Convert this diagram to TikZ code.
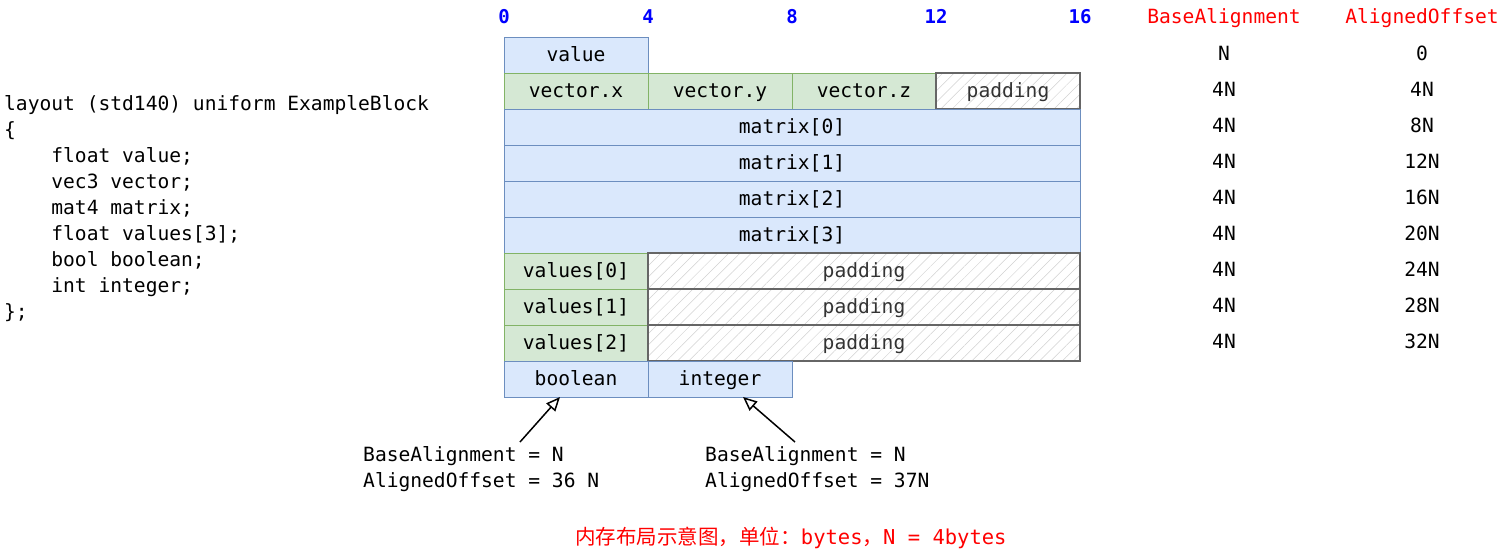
\documentclass[tikz,border=0pt]{standalone}
\usepackage{fontspec}
\setmonofont{DejaVu Sans Mono}
\newfontfamily\cjk{Noto Sans CJK SC}
\usetikzlibrary{arrows.meta,patterns.meta,positioning}
\definecolor{boxblue}{HTML}{DAE8FC}
\definecolor{lineblue}{HTML}{6C8EBF}
\definecolor{boxgreen}{HTML}{D5E8D4}
\definecolor{linegreen}{HTML}{82B366}
\newcommand{\tabin}{\hphantom{0000}}
\tikzset{
  mono/.style={font=\ttfamily\fontsize{19.6}{26}\selectfont, text height=14pt, text depth=4pt},
  cell/.style={mono, draw, line width=1pt, minimum height=36pt, inner sep=0pt, outer sep=0pt,
    text height=16pt},
  bluecell/.style={cell, fill=boxblue, draw=lineblue},
  greencell/.style={cell, fill=boxgreen, draw=linegreen},
  padcell/.style={cell, draw=black!60, line width=1.5pt, text=black!80,
    pattern={Lines[angle=45, distance=8pt, line width=0.5pt]}, pattern color=black!18},
  ruler/.style={font=\ttfamily\bfseries\fontsize{19}{22}\selectfont, text=blue,
    text height=14pt, text depth=4pt},
  colhead/.style={mono, text=red},
  note/.style={font=\ttfamily\fontsize{19.6}{26}\selectfont, align=left, anchor=north west, inner sep=0pt},
  pointer/.style={line width=1.5pt, -{Triangle[open, length=14pt, width=12pt]}}
}
\begin{document}
\begin{tikzpicture}[x=1pt, y=-1pt]
  \useasboundingbox (0,0) rectangle (1500,552);
  % byte ruler
  \foreach \b in {0,4,8,12,16}
    \node[ruler] (tick\b) at ({504+36*\b},18) {\b};
  % column headers
  \node[colhead] (basehead) at (1224,18) {BaseAlignment};
  \node[colhead] (offhead) at (1422,18) {AlignedOffset};
  % glsl source
  \node[note] (code) at (4,95) {layout (std140) uniform ExampleBlock\\
    \{\\
    \tabin float value;\\
    \tabin vec3 vector;\\
    \tabin mat4 matrix;\\
    \tabin float values[3];\\
    \tabin bool boolean;\\
    \tabin int integer;\\
    \};};
  % memory cells
  \node[bluecell, minimum width=144pt] (value) at (576,55) {value};
  \node[greencell, minimum width=144pt] (vecx) at (576,91) {vector.x};
  \node[greencell, minimum width=144pt] (vecy) at (720,91) {vector.y};
  \node[greencell, minimum width=144pt] (vecz) at (864,91) {vector.z};
  \node[padcell, minimum width=144pt] (vecpad) at (1008,91) {padding};
  \foreach \i in {0,...,3}
    \node[bluecell, minimum width=576pt] (matrix\i) at (792,{127+36*\i}) {matrix[\i]};
  \foreach \i in {0,1,2} {
    \node[greencell, minimum width=144pt] (values\i) at (576,{271+36*\i}) {values[\i]};
    \node[padcell, minimum width=432pt] (valpad\i) at (864,{271+36*\i}) {padding};
  }
  \node[bluecell, minimum width=144pt] (boolean) at (576,379) {boolean};
  \node[bluecell, minimum width=144pt] (integer) at (720,379) {integer};
  % alignment / offset table
  \foreach \b/\o [count=\k from 0] in {N/0, 4N/4N, 4N/8N, 4N/12N, 4N/16N, 4N/20N, 4N/24N, 4N/28N, 4N/32N} {
    \node[mono] (base\k) at (1224,{55+36*\k}) {\b};
    \node[mono] (off\k) at (1422,{55+36*\k}) {\o};
  }
  % notes
  \node[note] (boolnote) at (363,446) {BaseAlignment = N\\AlignedOffset = 36 N};
  \node[note] (intnote) at (705,446) {BaseAlignment = N\\AlignedOffset = 37N};
  \coordinate (booltail) at (520,442);
  \coordinate (inttail) at (795,442);
  \draw[pointer] (booltail) -- ([xshift=-16pt]boolean.south);
  \draw[pointer] (inttail) -- ([xshift=23pt]integer.south);
  % caption
  \node[text=red, font=\fontsize{20.5}{24}\selectfont] (caption) at (791,538)
    {\cjk 内存布局示意图，单位：\ttfamily bytes{\cjk ，}N = 4bytes};
\end{tikzpicture}
\end{document}
